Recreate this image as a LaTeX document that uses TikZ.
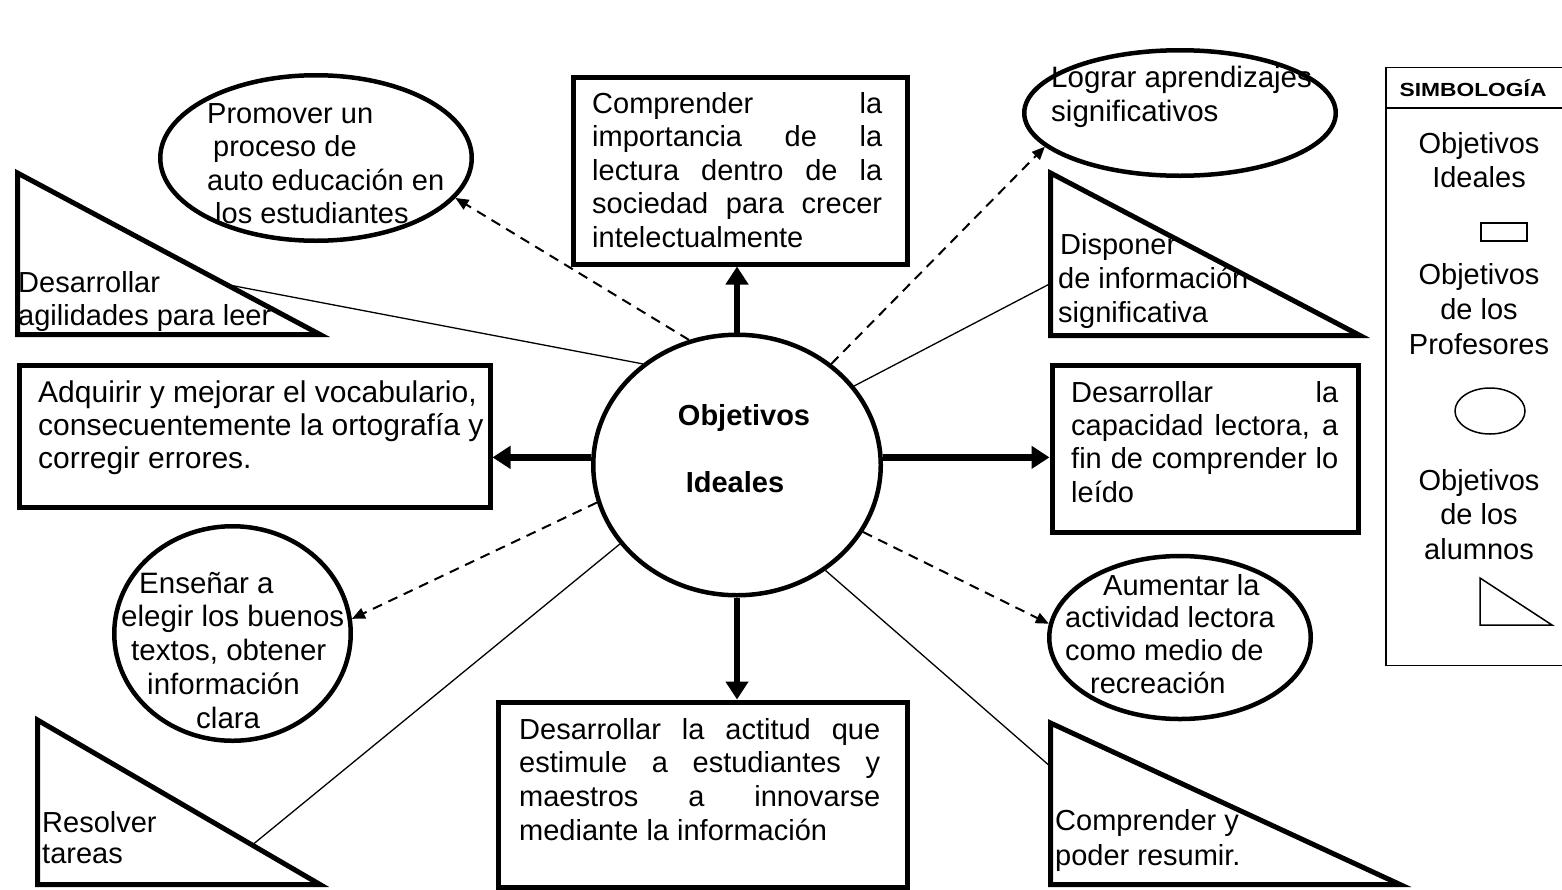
\documentclass[tikz,border=0pt]{standalone}
\usepackage{fontspec}
\usepackage{graphicx}
\setmainfont{Liberation Sans}
\usetikzlibrary{arrows.meta,shapes.geometric,calc}
\newcommand\dtxtb[1]{\fontsize{29pt}{#1}\selectfont}
\newcommand\jline[1]{\makebox[\linewidth][s]{#1}}
\begin{document}
\begin{tikzpicture}[x=1pt,y=-1pt,
  shapebox/.style={draw, rectangle, line width=5pt, inner sep=0pt, anchor=north west},
  oval/.style={draw, ellipse, line width=4.5pt, inner sep=0pt},
  tri/.style={line width=5pt, line join=miter},
  txt/.style={anchor=base west, inner sep=0pt},
  ctxt/.style={anchor=base, inner sep=0pt},
  bigarrow/.style={line width=6.5pt, -{Triangle[length=18pt,width=22pt]}},
  dasharrow/.style={line width=2pt, dash pattern=on 10pt off 7pt, -{Triangle[length=13pt,width=11pt]}},
  thinline/.style={line width=1.3pt},
  legline/.style={line width=1.5pt}]
\useasboundingbox (0,0) rectangle (1562,889);

% central ellipse
\node[oval, minimum width=287.5pt, minimum height=260.5pt] (c) at (737,465) {};
\node[ctxt] (cl1) at (744,425) {\fontsize{29pt}{30pt}\selectfont\bfseries Objetivos};
\node[ctxt] (cl2) at (735,492) {\fontsize{29pt}{30pt}\selectfont\bfseries Ideales};

% boxes
\node[shapebox, minimum width=334pt, minimum height=187pt] (top) at (570.5,74.5) {};
\node[shapebox, minimum width=471pt, minimum height=142pt] (left) at (16.5,362.5) {};
\node[shapebox, minimum width=306pt, minimum height=167pt] (right) at (1049.5,362.5) {};
\node[shapebox, minimum width=409pt, minimum height=185pt] (bot) at (495.5,699.5) {};

\node[txt] (ttop) at (592,113) {\parbox[t]{290pt}{\dtxtb{33.6pt}\jline{Comprender la}\\\jline{importancia de la}\\\jline{lectura dentro de la}\\\jline{sociedad para crecer}\\intelectualmente}};
\node[txt] (tleft) at (38,402) {\parbox[t]{460pt}{\raggedright\fontsize{30pt}{33pt}\selectfont Adquirir y mejorar el vocabulario,\\consecuentemente la ortografía y\\corregir errores.}};
\node[txt] (tright) at (1071,402) {\parbox[t]{267pt}{\dtxtb{33.4pt}\jline{Desarrollar la}\\\jline{capacidad lectora, a}\\\jline{fin de comprender lo}\\leído}};
\node[txt] (tbot) at (519,739) {\parbox[t]{361pt}{\dtxtb{33.7pt}\jline{Desarrollar la actitud que}\\\jline{estimule a estudiantes y}\\\jline{maestros a innovarse}\\mediante la información}};

% ellipses (profesores)
\node[oval, minimum width=311.5pt, minimum height=165.5pt] (prom) at (316,158) {};
\node[oval, minimum width=311.5pt, minimum height=125.5pt] (logr) at (1180,113) {};
\node[oval, minimum width=236.5pt, minimum height=214.5pt] (ens) at (232.5,633.5) {};
\node[oval, minimum width=261.5pt, minimum height=163pt] (aum) at (1180,637.5) {};

\node[txt] (tprom) at (207,123) {\parbox[t]{300pt}{\raggedright\dtxtb{33.5pt}Promover un\\\hspace*{6pt}proceso de\\auto educación en\\\hspace*{8pt}los estudiantes}};
\node[txt] (tlogr) at (1051,87) {\parbox[t]{300pt}{\raggedright\fontsize{29.5pt}{34pt}\selectfont Lograr aprendizajes\\significativos}};
\node[txt] (tens) at (121,593) {\parbox[t]{260pt}{\raggedright\fontsize{29.5pt}{33.8pt}\selectfont\hspace*{18pt}Enseñar a\\elegir los buenos\\\hspace*{10pt}textos, obtener\\\hspace*{26pt}información\\\hspace*{75pt}clara}};
\node[txt] (taum) at (1065,595) {\parbox[t]{260pt}{\raggedright\dtxtb{32.8pt}\hspace*{38pt}Aumentar la\\actividad lectora\\como medio de\\\hspace*{25pt}recreación}};

% triangles (alumnos)
\draw[tri] (17.5,173) coordinate (agT) -- (17.5,334.5) coordinate (agB) -- (320,334.5) coordinate (agR) -- cycle;
\draw[tri] (1050.5,173) coordinate (dpT) -- (1050.5,335.5) coordinate (dpB) -- (1360,335.5) coordinate (dpR) -- cycle;
\draw[tri] (37.5,720) coordinate (rsT) -- (37.5,884.5) coordinate (rsB) -- (320,884.5) coordinate (rsR) -- cycle;
\draw[tri] (1050.5,723) coordinate (cpT) -- (1050.5,884.5) coordinate (cpB) -- (1400,884.5) coordinate (cpR) -- cycle;

\node[txt] (tagil) at (18,292) {\parbox[t]{320pt}{\raggedright\dtxtb{33pt}Desarrollar\\agilidades para leer}};
\node[txt] (tdisp) at (1058,254) {\parbox[t]{300pt}{\raggedright\dtxtb{34pt}\hspace*{2pt}Disponer\\de información\\significativa}};
\node[txt] (tres) at (42,832) {\parbox[t]{300pt}{\raggedright\dtxtb{31.5pt}Resolver\\tareas}};
\node[txt] (tcomp) at (1055,830) {\parbox[t]{300pt}{\raggedright\dtxtb{35pt}Comprender y\\poder resumir.}};

\coordinate (agHit) at ($(agT)!0.69!(agR)$);
\coordinate (dpHit) at ($(dpT)!0.68!(dpB)$);
\coordinate (rsHit) at ($(rsT)!0.76!(rsR)$);
\coordinate (cpHit) at ($(cpT)!0.27!(cpB)$);

% thick arrows to ideal objectives
\draw[bigarrow] (c.north) -- (c.north |- top.south);
\draw[bigarrow] (c.177) -- (c.177 -| left.east);
\draw[bigarrow] (c.3) -- (c.3 -| right.west);
\draw[bigarrow] (c.south) -- (c.south |- bot.north);

% dashed arrows to teacher objectives
\draw[dasharrow] (c.111) -- (prom.344);
\draw[dasharrow] (c.47) -- (logr.194);
\draw[dasharrow] (c.195.5) -- (ens.7);
\draw[dasharrow] (c.332) -- (aum.174);

% thin lines to student objectives
\draw[thinline] (c.133) -- (agHit);
\draw[thinline] (c.34.5) -- (dpHit);
\draw[thinline] (c.214.7) -- (rsHit);
\draw[thinline] (c.310) -- (cpHit);

% legend
\node[draw, legline, rectangle, inner sep=0pt, anchor=north west, minimum width=180pt, minimum height=598pt] (leg) at (1385,66.5) {};
\coordinate (hdr) at (1385,108);
\draw[legline] (hdr) -- (hdr -| leg.east);
\node[ctxt] (lgh) at (1473,96) {\scalebox{1.2}[1]{\fontsize{19pt}{19pt}\selectfont\bfseries SIMBOLOGÍA}};
\node[ctxt] (lg1) at (1479,153) {\parbox[t]{170pt}{\centering\dtxtb{34pt}Objetivos\\Ideales}};
\node[draw, legline, rectangle, inner sep=0pt, anchor=north west, minimum width=46pt, minimum height=18pt] (lrect) at (1480,222) {};
\node[ctxt] (lg2) at (1479,284) {\parbox[t]{170pt}{\centering\dtxtb{35pt}Objetivos\\de los\\Profesores}};
\node[draw, legline, ellipse, inner sep=0pt, minimum width=70pt, minimum height=46pt] (lell) at (1490,411) {};
\node[ctxt] (lg3) at (1479,490) {\parbox[t]{170pt}{\centering\dtxtb{34.5pt}Objetivos\\de los\\alumnos}};
\draw[legline] (1480,578) coordinate (ltA) -- (1480,625) coordinate (ltB) -- (1552,625) coordinate (ltC) -- cycle;
\end{tikzpicture}
\end{document}
